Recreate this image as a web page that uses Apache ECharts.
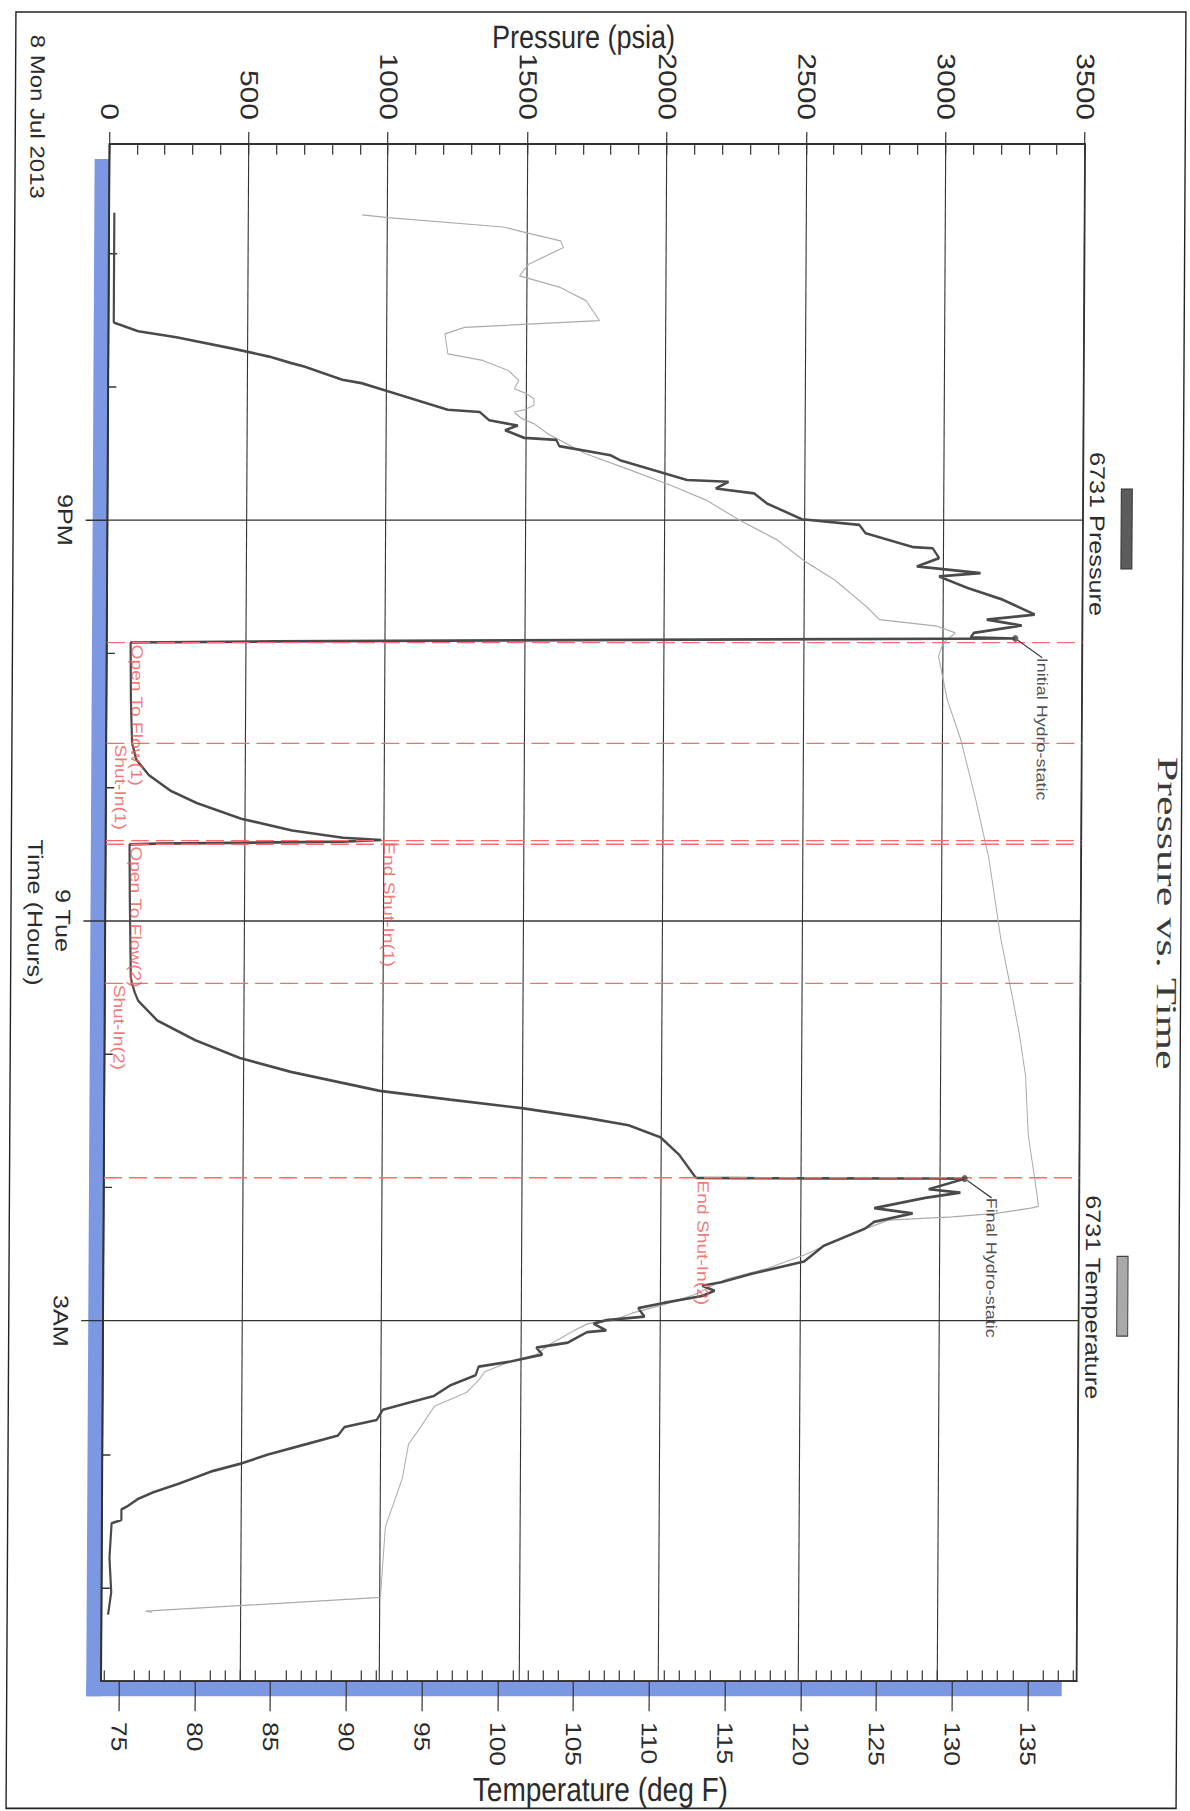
<!DOCTYPE html>
<html>
<head>
<meta charset="utf-8">
<title>Pressure vs. Time</title>
<script src="https://cdn.jsdelivr.net/npm/echarts@6/dist/echarts.min.js"></script>
<style>
html, body { margin: 0; padding: 0; background: #fff; overflow: hidden; }
/* the chart is drawn upright and then turned onto the page like the printed copy */
#chart {
    position: absolute; left: 0; top: 0;
    width: 1509px; height: 1190px;
    transform-origin: 0 0;
    transform: translate(1190px, 0) skewX(-0.315deg) rotate(90deg) scaleX(1.2);
}
</style>
</head>
<body>
<div id="chart"></div>
<script>
// time in hours from midnight of Mon 8 Jul 2013
var tMin = 18.1833, tMax = 29.7;
var majorHours = [21, 24, 27];
var hourLabels = {21: '9PM', 24: '9 Tue', 27: '3AM'};
var minorHours = [19, 20, 22, 23, 25, 26, 28, 29];

var tempMin = 73.8, tempMax = 138.2;
var tempMajor = [75, 80, 85, 90, 95, 100, 105, 110, 115, 120, 125, 130, 135];
var tempMinor = [74, 76, 77, 78, 79, 81, 82, 83, 84, 86, 87, 88, 89, 91, 92, 93, 94, 96, 97, 98, 99,
    101, 102, 103, 104, 106, 107, 108, 109, 111, 112, 113, 114, 116, 117, 118, 119, 121, 122, 123, 124,
    126, 127, 128, 129, 131, 132, 133, 134, 136, 137, 138];

var pressTime = [18.698, 19.519, 19.527, 19.586, 19.631, 19.718, 19.776, 19.825, 19.850, 19.950,
    19.975, 20.034, 20.174, 20.191, 20.253, 20.293, 20.328, 20.385, 20.400, 20.447,
    20.515, 20.552, 20.701, 20.714, 20.764, 20.801, 20.876, 20.995, 21.037, 21.100,
    21.204, 21.212, 21.286, 21.348, 21.398, 21.423, 21.510, 21.597, 21.709, 21.747,
    21.791, 21.846, 21.880, 21.888, 21.900, 21.910, 21.918, 21.940, 22.349, 22.669,
    22.794, 22.912, 23.031, 23.120, 23.238, 23.327, 23.381, 23.398, 23.410, 23.425,
    23.431, 23.831, 24.424, 24.468, 24.542, 24.602, 24.750, 24.898, 25.031, 25.135,
    25.277, 25.343, 25.408, 25.476, 25.535, 25.624, 25.758, 25.921, 25.930, 25.931,
    25.933, 25.934, 25.935, 26.014, 26.040, 26.079, 26.156, 26.195, 26.259, 26.311,
    26.440, 26.556, 26.646, 26.711, 26.737, 26.775, 26.814, 26.866, 26.905, 26.969,
    26.995, 27.021, 27.072, 27.085, 27.163, 27.201, 27.253, 27.305, 27.343, 27.408,
    27.485, 27.563, 27.614, 27.666, 27.743, 27.795, 27.859, 27.924, 28.001, 28.066,
    28.130, 28.221, 28.285, 28.337, 28.388, 28.414, 28.492, 28.517, 28.775, 29.034, 29.201];
var pressValue = [18, 18, 25, 106, 243, 450, 576, 656, 702, 839,
    908, 1000, 1218, 1333, 1367, 1470, 1424, 1493, 1608, 1619,
    1803, 1837, 2078, 2227, 2181, 2319, 2365, 2491, 2697, 2720,
    2892, 2961, 2984, 2904, 3133, 2984, 3087, 3213, 3328, 3156,
    3282, 3110, 3099, 3259, 1690, 600, 85, 85, 87, 92,
    107, 153, 233, 325, 485, 668, 851, 988, 851, 188,
    85, 87, 92, 96, 107, 119, 188, 325, 485, 668,
    988, 1240, 1503, 1720, 1881, 1995, 2064, 2121, 2125, 2270,
    2590, 2979, 3088, 2959, 3073, 2947, 2764, 2902, 2764, 2730,
    2582, 2513, 2330, 2216, 2148, 2193, 2148, 2010, 1919, 1942,
    1805, 1759, 1805, 1736, 1668, 1554, 1576, 1462, 1348, 1337,
    1245, 1188, 1097, 1005, 983, 868, 845, 731, 594, 503,
    388, 274, 183, 126, 91, 69, 69, 34, 27, 34, 23];

var tempTime = [18.715, 18.735, 18.805, 18.847, 18.909, 18.959, 19.084, 19.171, 19.258, 19.357,
    19.507, 19.557, 19.606, 19.756, 19.805, 19.880, 19.955, 20.017, 20.054, 20.092,
    20.141, 20.174, 20.191, 20.241, 20.278, 20.353, 20.502, 20.627, 20.751, 20.851,
    21.000, 21.149, 21.299, 21.448, 21.647, 21.747, 21.796, 21.846, 21.921, 22.023,
    22.349, 22.645, 23.090, 23.535, 24.127, 24.572, 24.868, 25.165, 25.609, 26.054,
    26.143, 26.156, 26.195, 26.221, 26.246, 26.375, 26.505, 26.608, 26.685, 26.724,
    26.801, 26.879, 26.943, 26.995, 27.021, 27.072, 27.175, 27.253, 27.305, 27.382,
    27.446, 27.537, 27.640, 27.795, 27.924, 28.182, 28.543, 29.072, 29.175, 29.185];
var tempValue = [90.5, 92.2, 99.8, 101.3, 103.6, 103.8, 101.5, 100.9, 103.6, 105.3,
    106.2, 97.3, 96.0, 96.2, 98.5, 100.2, 100.9, 100.6, 101.4, 101.9,
    101.9, 101.3, 100.6, 101.1, 101.9, 102.8, 105.3, 108.3, 111.2, 113.3,
    115.5, 118.0, 119.7, 121.8, 123.9, 124.8, 128.6, 129.8, 129.0, 128.7,
    129.3, 130.2, 131.2, 132.1, 132.9, 133.7, 134.2, 134.6, 134.8, 135.4,
    135.5, 135.0, 132.7, 129.8, 125.6, 122.6, 120.1, 117.6, 115.0, 114.2,
    112.9, 110.8, 108.7, 107.5, 105.8, 104.9, 103.3, 102.4, 100.7, 99.0,
    98.6, 97.8, 95.7, 94.8, 94.0, 93.6, 92.5, 92.2, 76.7, 77.1];

var eventNames = ['Open To Flow(1)', 'Shut-In(1)', 'End Shut-In(1)', 'Open To Flow(2)', 'Shut-In(2)', 'End Shut-In(2)'];
var eventTimes = [21.92, 22.669, 23.401, 23.431, 24.468, 25.935];
var eventPress = [80, 80, 988, 80, 80, 2121];
var eventAbove = [true, false, true, true, false, true];

var hydroNames = ['Initial Hydro-static', 'Final Hydro-static'];
var hydroTimes = [21.888, 25.935];
var hydroPress = [3259, 3088];

// layout of the upright chart (the time direction is shrunk by 1.2 before the turn)
var W = 1509, H = 1190;
var gLeft = 120, gRight = 108, gTop = 104, gBottom = 110.5;
var gW = W - gLeft - gRight, gH = H - gTop - gBottom;
var shadowX = 12.5, shadowY = 15;
var font = 'Liberation Sans, Arial, sans-serif';
var ink = '#2b2b2b';

var pressData = pressTime.map(function (t, i) { return [t, pressValue[i]]; });
var tempData = tempTime.map(function (t, i) { return [t, tempValue[i]]; });

var chart = echarts.init(document.getElementById('chart'), null, {renderer: 'svg'});

option = {
    animation: false,
    backgroundColor: '#fff',
    textStyle: {fontFamily: font},
    grid: {
        left: gLeft, right: gRight, top: gTop, bottom: gBottom,
        show: true, backgroundColor: '#fff', borderColor: '#333', borderWidth: 1.5,
        outerBoundsMode: 'none', containLabel: false
    },
    graphic: [
        {type: 'rect', z: -5, silent: true,
            shape: {x: 10, y: 4, width: 1497, height: 1170},
            style: {fill: 'none', stroke: '#222', lineWidth: 1.4}},
        // blue drop shadow of the plot frame
        {type: 'rect', z: -1, silent: true,
            shape: {x: gLeft + shadowX, y: gTop + gH, width: gW, height: shadowY},
            style: {fill: '#7d98e3'}},
        {type: 'rect', z: -1, silent: true,
            shape: {x: gLeft + gW, y: gTop + shadowY, width: shadowX, height: gH},
            style: {fill: '#7d98e3'}},
        {type: 'text', x: 761, y: 18, scaleX: 1.27, silent: true,
            style: {text: 'Pressure vs. Time', fontSize: 29, fontFamily: 'Liberation Serif, Times New Roman, serif',
                fill: '#3a3a3a', align: 'center', verticalAlign: 'middle'}},
        {type: 'rect', silent: true,
            shape: {x: 407.5, y: 55, width: 66.5, height: 11},
            style: {fill: '#5c5c5c', stroke: '#333', lineWidth: 1}},
        {type: 'text', x: 445, y: 90, silent: true,
            style: {text: '6731 Pressure', fontSize: 21, fontFamily: font, fill: ink, align: 'center', verticalAlign: 'middle'}},
        {type: 'rect', silent: true,
            shape: {x: 1047, y: 55, width: 66.5, height: 11},
            style: {fill: '#a9a9a9', stroke: '#444', lineWidth: 1}},
        {type: 'text', x: 1081, y: 90, silent: true,
            style: {text: '6731 Temperature', fontSize: 21, fontFamily: font, fill: ink, align: 'center', verticalAlign: 'middle'}},
        {type: 'text', x: 29, y: 1152, silent: true,
            style: {text: '8 Mon Jul 2013', fontSize: 20, fontFamily: font, fill: ink, align: 'left', verticalAlign: 'middle'}}
    ],
    xAxis: [
        {
            type: 'value', min: tMin, max: tMax, position: 'bottom',
            name: 'Time (Hours)', nameLocation: 'middle', nameGap: 60, nameMoveOverlap: false,
            nameTextStyle: {fontSize: 21, color: ink},
            axisLine: {show: true, lineStyle: {color: '#333', width: 1.5}},
            axisTick: {show: true, inside: false, length: 22, customValues: majorHours, lineStyle: {color: '#333', width: 1.2}},
            axisLabel: {show: true, customValues: majorHours, margin: 32, fontSize: 21, color: ink,
                formatter: function (v) { return hourLabels[Math.round(v)] || ''; }},
            splitLine: {show: true, lineStyle: {color: '#333', width: 1.1}}
        },
        {
            type: 'value', min: tMin, max: tMax, position: 'bottom',
            axisLine: {show: false},
            axisTick: {show: true, inside: true, length: 8, customValues: minorHours, lineStyle: {color: '#333', width: 1.2}},
            axisLabel: {show: false},
            splitLine: {show: false}
        }
    ],
    yAxis: [
        {
            type: 'value', min: 0, max: 3500, interval: 500, position: 'left',
            name: 'Pressure (psia)', nameLocation: 'middle', nameGap: 76, nameRotate: 90, nameMoveOverlap: false,
            nameTextStyle: {fontSize: 27, color: ink, padding: [0, 29, 0, 0]},
            axisLine: {show: true, lineStyle: {color: '#333', width: 1.5}},
            axisTick: {show: true, inside: false, length: 10, lineStyle: {color: '#333', width: 1.2}},
            axisLabel: {margin: 20, fontSize: 25, color: ink, showMinLabel: true, showMaxLabel: true,
                formatter: function (v) { return String(v); }},
            splitLine: {show: true, lineStyle: {color: '#333', width: 1.1}}
        },
        {
            type: 'value', min: tempMin, max: tempMax, position: 'right',
            name: 'Temperature (deg F)', nameLocation: 'middle', nameGap: 76, nameRotate: 90, nameMoveOverlap: false,
            nameTextStyle: {fontSize: 28, color: ink, padding: [0, 0, 0, 24]},
            axisLine: {show: true, lineStyle: {color: '#333', width: 1.5}},
            axisTick: {show: true, inside: false, length: 25, customValues: tempMajor, lineStyle: {color: '#333', width: 1.2}},
            axisLabel: {customValues: tempMajor, margin: 34, fontSize: 22, color: ink},
            splitLine: {show: false}
        },
        {
            type: 'value', min: 0, max: 3500, interval: 100, position: 'left',
            axisLine: {show: false},
            axisTick: {show: true, inside: true, length: 9, lineStyle: {color: '#333', width: 1.2}},
            axisLabel: {show: false},
            splitLine: {show: false}
        },
        {
            type: 'value', min: tempMin, max: tempMax, position: 'right',
            axisLine: {show: false},
            axisTick: {show: true, inside: true, length: 9, customValues: tempMinor, lineStyle: {color: '#333', width: 1.2}},
            axisLabel: {show: false},
            splitLine: {show: false}
        }
    ],
    series: [
        {
            name: '6731 Temperature', type: 'line', xAxisIndex: 0, yAxisIndex: 1,
            data: tempData, showSymbol: false, symbol: 'none', z: 2,
            lineStyle: {color: '#ababab', width: 1}
        },
        {
            name: '6731 Pressure', type: 'line', xAxisIndex: 0, yAxisIndex: 0,
            data: pressData, showSymbol: false, symbol: 'none', z: 4,
            lineStyle: {color: '#4a4a4a', width: 2.2},
            markLine: {
                silent: true, symbol: 'none', label: {show: false},
                lineStyle: {color: '#ff6b6b', type: [18, 7], width: 1.2},
                data: eventTimes.map(function (t) { return {xAxis: t}; })
            }
        },
        {
            name: 'events', type: 'scatter', xAxisIndex: 0, yAxisIndex: 0,
            symbolSize: 1, itemStyle: {color: 'rgba(0,0,0,0)'}, silent: true, z: 5,
            data: eventNames.map(function (n, i) {
                return {name: n, value: [eventTimes[i], eventPress[i]],
                    label: {verticalAlign: eventAbove[i] ? 'bottom' : 'top'}};
            }),
            label: {show: true, position: 'right', distance: 1, formatter: '{b}',
                color: '#f25555', fontSize: 16, align: 'left'}
        },
        {
            name: 'hydro', type: 'scatter', xAxisIndex: 0, yAxisIndex: 0,
            symbol: 'circle', symbolSize: 6, itemStyle: {color: '#444'}, silent: true, z: 6,
            data: hydroNames.map(function (n, i) {
                return {name: n, value: [hydroTimes[i], hydroPress[i]]};
            }),
            label: {show: true, position: 'right', distance: 0, formatter: '{b}',
                color: '#222', fontSize: 15, align: 'left', verticalAlign: 'middle'},
            labelLayout: {dx: 13, dy: -27},
            labelLine: {show: true, lineStyle: {color: '#333', width: 1}}
        }
    ]
};
chart.setOption(option);
</script>
</body>
</html>
